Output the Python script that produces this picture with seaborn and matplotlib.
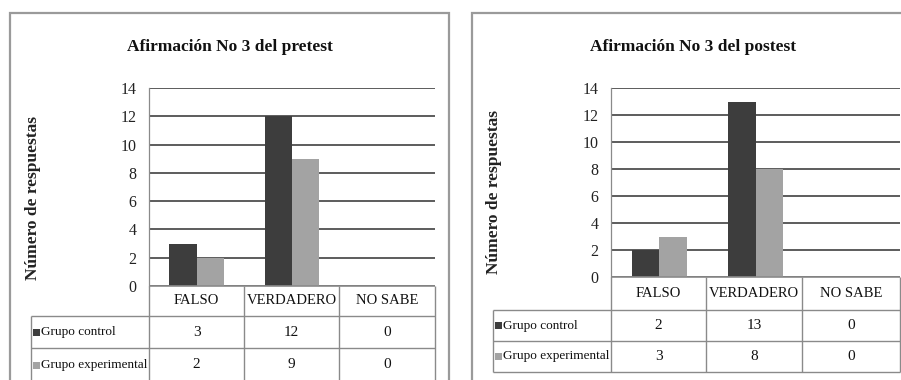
import matplotlib
matplotlib.use("Agg")
import matplotlib.pyplot as plt
from matplotlib.lines import Line2D
from matplotlib.patches import Rectangle
import seaborn as sns
import pandas as pd

# ---- data ----
categories = ["FALSO", "VERDADERO", "NO SABE"]
groups = ["Grupo control", "Grupo experimental"]
pre_control = [3, 12, 0]
pre_experimental = [2, 9, 0]
post_control = [2, 13, 0]
post_experimental = [3, 8, 0]
titles = ["Afirmación No 3 del pretest", "Afirmación No 3 del postest"]
y_label = "Número de respuestas"
y_ticks = [0, 2, 4, 6, 8, 10, 12, 14]

sns.set_theme(style="white")
plt.rcParams['font.family'] = ['Liberation Serif', 'DejaVu Serif']

W, H = 901, 380
fig = plt.figure(figsize=(W / 100, H / 100), dpi=100)
fig.patch.set_facecolor("white")

DARK = "#3d3d3d"
LIGHT = "#a3a3a3"
GRID = "#4f4f4f"
TBL = "#8a8a8a"
FRAME = "#9a9a9a"
TXT = "#111111"


def fx(x):
    return x / W


def fy(y):
    return 1 - y / H


def line(x0, y0, x1, y1, color=TBL, lw=1.0):
    fig.add_artist(Line2D([fx(x0), fx(x1)], [fy(y0), fy(y1)],
                          transform=fig.transFigure, color=color, lw=lw,
                          solid_capstyle="butt"))


def panel(title, control, experimental, g):
    # frame
    fig.add_artist(Rectangle((fx(g["fl"]), fy(g["fb"])), fx(g["fr"] - g["fl"]),
                             (g["fb"] - g["ft"]) / H, transform=fig.transFigure,
                             fill=False, edgecolor=FRAME, lw=1.6))
    # axes
    ax = fig.add_axes([fx(g["pl"]), fy(g["p0"]), fx(g["pr"] - g["pl"]),
                       (g["p0"] - g["p14"]) / H])
    df = pd.DataFrame({
        "Categoría": categories * 2,
        "Grupo": [groups[0]] * 3 + [groups[1]] * 3,
        "Respuestas": list(control) + list(experimental),
    })
    sns.barplot(data=df, x="Categoría", y="Respuestas", hue="Grupo",
                order=categories, hue_order=groups,
                palette=[DARK, LIGHT], width=0.57, gap=0, saturation=1,
                legend=False, ax=ax, edgecolor="none")
    ax.set_xlim(-0.5, 2.5)
    ax.set_ylim(0, 14)
    ax.set_yticks(y_ticks)
    ax.set_yticklabels([str(t) for t in y_ticks], fontsize=11.5)
    ax.tick_params(axis="y", length=0, pad=9, colors="#222222")
    ax.set_xticks([])
    ax.set_xlabel("")
    ax.set_ylabel("")
    ax.set_axisbelow(True)
    ax.yaxis.grid(True, color=GRID, lw=1.3)
    for s in ["top", "right", "bottom"]:
        ax.spines[s].set_visible(False)
    ax.spines["left"].set_color(TBL)
    ax.spines["left"].set_linewidth(0.9)
    ax.patch.set_alpha(0)

    # title
    fig.text(fx(g["tx"]), fy(g["ty"]), title, ha="center", va="center",
             fontsize=12.5, fontweight="bold", color=TXT)
    # y label
    fig.text(fx(g["yx"]), fy(g["yy"]), y_label, ha="center", va="center",
             rotation=90, fontsize=12.5, fontweight="bold", color="#222222")

    # table
    cols = g["cols"]
    rows = g["rows"]
    tl = g["tl"]
    for c in cols:
        line(c, rows[0], c, rows[3])
    line(tl, rows[1], tl, rows[3])
    for r in rows[1:]:
        line(tl, r, cols[-1], r)
    line(cols[0], rows[0], cols[-1], rows[0], color=TBL, lw=1.2)
    for i, cat in enumerate(categories):
        cx = (cols[i] + cols[i + 1]) / 2
        fig.text(fx(cx), fy((rows[0] + rows[1]) / 2), cat, ha="center",
                 va="center", fontsize=10.5, color=TXT)
        fig.text(fx(cx), fy((rows[1] + rows[2]) / 2), str(control[i]),
                 ha="center", va="center", fontsize=11, color=TXT)
        fig.text(fx(cx), fy((rows[2] + rows[3]) / 2), str(experimental[i]),
                 ha="center", va="center", fontsize=11, color=TXT)
    for j, (lab, col) in enumerate(zip(groups, [DARK, LIGHT])):
        yc = (rows[1 + j] + rows[2 + j]) / 2
        fig.add_artist(Rectangle((fx(tl + 2), fy(yc + 3.5)), fx(7), 7 / H,
                                 transform=fig.transFigure, facecolor=col,
                                 edgecolor="none"))
        fig.text(fx(tl + 10), fy(yc), lab, ha="left", va="center",
                 fontsize=9.5, color=TXT)


left_geom = dict(fl=10, fr=449, ft=13, fb=400,
                 pl=149, pr=435, p14=88, p0=286,
                 tx=230, ty=47, yx=33, yy=198,
                 cols=[149, 244, 339, 435], rows=[286, 316, 348, 382], tl=31)
right_geom = dict(fl=472, fr=920, ft=13, fb=400,
                  pl=611, pr=900, p14=88, p0=277,
                  tx=693, ty=47, yx=494, yy=192,
                  cols=[611, 706, 802, 900], rows=[277, 310, 341, 372], tl=493)

panel(titles[0], pre_control, pre_experimental, left_geom)
panel(titles[1], post_control, post_experimental, right_geom)

fig.savefig("out.png", dpi=100)
